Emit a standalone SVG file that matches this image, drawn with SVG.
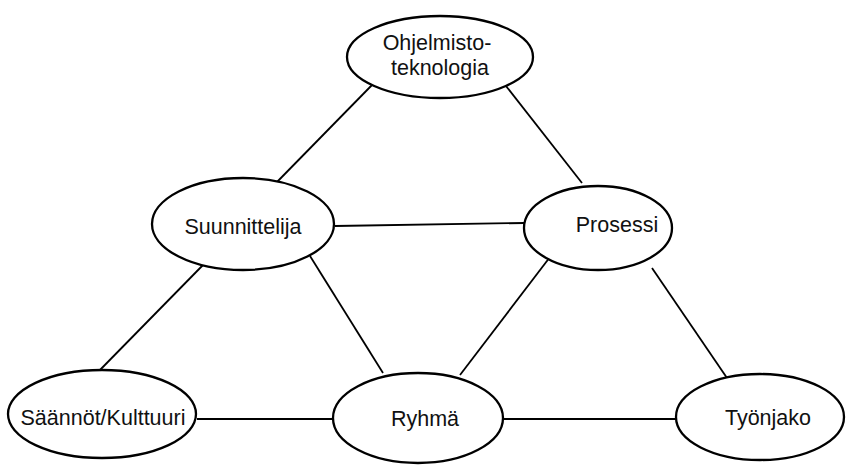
<svg xmlns="http://www.w3.org/2000/svg" width="849" height="465" viewBox="0 0 849 465">
  <style>
    .node ellipse { fill: #ffffff; stroke: #000000; stroke-width: 2.3; }
    .node text { font-family: "Liberation Sans", Arial, sans-serif; font-size: 21.5px; fill: #111111; text-anchor: middle; }
    .edges line { stroke: #000000; stroke-width: 1.8; }
  </style>
  <rect width="849" height="465" fill="#ffffff"/>
  <g class="edges" id="connectors">
    <line x1="372" y1="85" x2="276" y2="183"/>
    <line x1="506" y1="86" x2="582" y2="183"/>
    <line x1="335" y1="226" x2="524" y2="223"/>
    <line x1="203" y1="265" x2="98" y2="372"/>
    <line x1="310" y1="256" x2="383" y2="373"/>
    <line x1="550" y1="257" x2="460" y2="375"/>
    <line x1="652" y1="268" x2="727" y2="378"/>
    <line x1="197" y1="419" x2="333" y2="419"/>
    <line x1="502" y1="419" x2="676" y2="419"/>
  </g>
  <g class="node" id="ohjelmistoteknologia">
    <ellipse cx="440" cy="57" rx="93" ry="41"/>
    <text x="437" y="50">Ohjelmisto-</text>
    <text x="440" y="75">teknologia</text>
  </g>
  <g class="node" id="suunnittelija">
    <ellipse cx="243" cy="224" rx="91" ry="46"/>
    <text x="243" y="234">Suunnittelija</text>
  </g>
  <g class="node" id="prosessi">
    <ellipse cx="598" cy="228" rx="74" ry="42"/>
    <text x="617" y="232">Prosessi</text>
  </g>
  <g class="node" id="saannot">
    <ellipse cx="102" cy="414" rx="94" ry="44"/>
    <text x="103" y="425">Säännöt/Kulttuuri</text>
  </g>
  <g class="node" id="ryhma">
    <ellipse cx="418" cy="418" rx="85" ry="45"/>
    <text x="425" y="426">Ryhmä</text>
  </g>
  <g class="node" id="tyonjako">
    <ellipse cx="760" cy="417" rx="84" ry="43"/>
    <text x="768" y="425">Työnjako</text>
  </g>
</svg>
